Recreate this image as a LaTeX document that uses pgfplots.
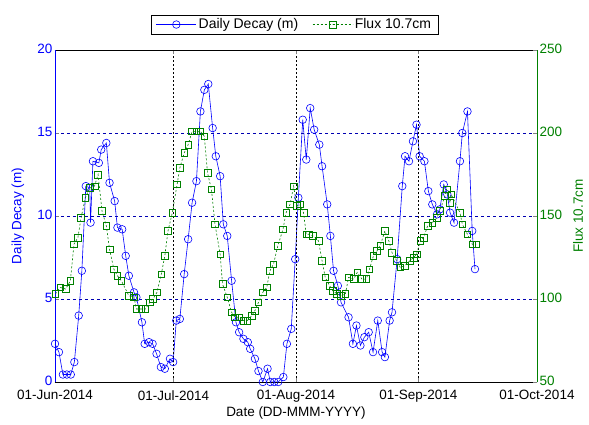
\documentclass[border=0pt]{standalone}
\usepackage{pgfplots}
\pgfplotsset{compat=1.18}
\usepackage{fontspec}
\setmainfont{Liberation Sans}
\definecolor{mgreen}{rgb}{0,0.5,0}
\definecolor{mblue}{rgb}{0,0,1}
\begin{document}
\begin{tikzpicture}
\path[use as bounding box] (0,0) rectangle (589pt,424pt);
\pgfplotsset{
  common/.style={
    scale only axis, width=482pt, height=332pt,
    at={(55pt,42pt)}, anchor=south west,
    xmin=0, xmax=122,
    tick align=inside,
    /pgf/number format/assume math mode=true,
    tick label style={font=\fontsize{13.5}{15}\selectfont},
    label style={font=\fontsize{13.5}{15}\selectfont},
    major tick length=4pt,
  }
}
\begin{axis}[common,
  ymin=0, ymax=20, ytick={0,5,10,15,20},
  axis x line=box, axis y line*=left,
  x axis line style={black,-},
  y axis line style={mblue,-},
  yticklabel style={mblue, xshift=1pt, yshift=1pt},
  xticklabel style={yshift=-5pt},
  ylabel={Daily Decay (m)}, ylabel style={mblue, anchor=center, at={(axis description cs:-0.077,0.5)}},
  xtick={0,30,61,92,122},
  xticklabels={01-Jun-2014,01-Jul-2014,01-Aug-2014,01-Sep-2014,01-Oct-2014},
  xlabel={Date (DD-MMM-YYYY)}, xlabel style={font=\fontsize{13.5}{15}\selectfont, anchor=center, at={(axis description cs:0.5,-0.093)}},
  xmajorgrids, ymajorgrids,
  major x grid style={black, dash pattern=on 2pt off 2pt, line width=0.5pt},
  major y grid style={mblue!70!black, dash pattern=on 3pt off 3pt, line width=0.5pt},
  axis on top,
  legend style={at={(0.497,1.048)}, anchor=south, legend columns=2, draw=black,
    font=\fontsize{14}{16}\selectfont, inner xsep=5pt, inner ysep=1.5pt,
    /tikz/every even column/.append style={column sep=12pt}},
  legend cell align=left,
  legend image code/.code={\draw[mark repeat=2, mark phase=2, #1] plot coordinates {(0pt,0pt)(20pt,0pt)(40pt,0pt)};},
]
\addplot[mblue, line width=0.6pt, mark=o, mark size=3.8pt, mark options={solid}] coordinates {
(0,2.3)(1,1.8)(2,0.45)(3,0.45)(4,0.45)(4.9,1.2)(6.0,4.0)(6.8,6.7)(7.8,11.8)(8.8,11.7)
(9.0,9.6)(9.6,13.3)(11.1,13.2)(11.7,14.0)(13.0,14.4)(13.8,12.0)(15.1,10.9)(15.8,9.3)(17.0,9.2)(17.9,7.6)
(18.7,6.4)(20.0,5.4)(20.6,5.1)(22.0,3.6)(22.7,2.3)(23.8,2.4)(24.7,2.3)(25.7,1.7)(26.8,0.9)(27.8,0.8)
(29.1,1.4)(29.9,1.2)(30.7,3.7)(31.6,3.8)(32.7,6.5)(33.7,8.6)(34.7,10.8)(35.8,12.1)(36.8,16.3)(37.8,17.6)
(38.8,17.95)(39.9,15.3)(40.7,13.6)(41.8,12.4)(42.6,9.5)(43.6,8.8)(44.7,6.1)(45.8,3.6)(46.6,3.0)(47.7,2.6)
(48.8,2.4)(49.4,2.0)(50.6,1.4)(51.5,0.66)(52.6,0.0)(53.8,0.8)(54.5,0.0)(55.5,0.0)(56.5,0.0)(57.8,0.3)
(58.7,2.3)(59.8,3.2)(60.8,7.4)(61.6,11.1)(62.7,15.8)(63.6,13.4)(64.6,16.5)(65.6,15.2)(66.9,14.3)(67.6,13.0)
(68.9,10.7)(69.7,8.8)(70.5,6.7)(71.6,5.8)(72.4,4.8)(74.3,3.9)(75.4,2.3)(76.3,3.4)(77.3,2.2)(78.3,2.7)
(79.4,3.0)(80.5,1.8)(81.7,3.7)(82.8,1.8)(83.5,1.5)(84.7,3.7)(85.3,4.2)(86.6,7.4)(87.9,11.8)(88.6,13.6)
(89.6,13.3)(90.6,14.5)(91.5,15.5)(92.3,13.6)(93.5,13.3)(94.5,11.5)(95.5,10.7)(96.7,10.1)(97.4,10.4)(98.4,11.9)
(99.3,11.3)(100.0,10.2)(101.0,9.6)(102.5,13.3)(103.1,15.0)(104.4,16.3)(105.6,9.1)(106.3,6.8)
};
\addlegendentry{Daily Decay (m)}
\addlegendimage{mgreen, dash pattern=on 2pt off 2pt, line width=0.6pt, mark=square, mark size=3.3pt, mark options={solid}}
\addlegendentry{Flux 10.7cm}
\end{axis}
\begin{axis}[common,
  ymin=50, ymax=250, ytick={50,100,150,200,250},
  axis x line=none, axis y line*=right,
  y axis line style={mgreen,-},
  yticklabel style={mgreen, xshift=-1pt, yshift=1pt},
  ylabel={Flux 10.7cm}, ylabel style={mgreen, anchor=center, at={(axis description cs:1.085,0.5)}},
]
\addplot[mgreen, line width=0.6pt, dash pattern=on 2pt off 2pt, mark=square, mark size=3.3pt, mark options={solid}] coordinates {
(0.1,103)(1.3,107)(2.7,106)(3.9,111)(4.8,133)(5.8,137)(6.6,149)(7.7,161)(8.8,167)(10.0,168)
(10.9,175)(11.9,153)(13.0,144)(13.8,130)(14.9,118)(15.8,114)(16.8,111)(18.7,102)(20.0,101)(20.6,94)
(21.8,94)(22.9,94)(24.0,98)(24.8,100)(25.8,104)(26.9,115)(27.8,126)(28.6,141)(29.7,152)(30.9,169)
(31.6,179)(32.7,188)(33.7,193)(34.7,201)(35.8,201)(36.8,201)(37.8,198)(38.6,176)(39.6,166)(40.5,145)
(41.8,127)(42.4,109)(43.6,101)(44.7,92)(45.5,89)(46.6,89)(47.7,87)(48.7,87)(49.8,90)(50.6,93)
(51.5,98)(52.6,104)(53.6,107)(54.4,117)(55.3,121)(56.4,132)(57.7,142)(58.5,152)(59.5,157)(60.4,168)
(61.2,156)(61.9,157)(62.9,152)(63.6,139)(64.3,139)(65.3,138)(66.7,135)(67.6,123)(68.4,113)(69.5,108)
(70.3,105)(71.4,103)(72.4,102)(73.5,103)(74.3,113)(75.6,112)(76.5,116)(77.7,112)(78.8,112)(79.6,118)
(80.6,126)(81.5,129)(82.3,132)(83.5,141)(84.5,135)(85.3,128)(86.5,123)(87.4,119)(88.5,120)(89.8,123)
(90.8,125)(91.5,127)(92.5,135)(93.3,137)(94.3,144)(95.5,146)(96.7,149)(97.4,153)(98.7,162)(99.1,166)
(100.0,158)(100.3,163)(102.5,152)(103.1,145)(104.4,139)(105.6,133)(106.6,133)
};
\end{axis}
\end{tikzpicture}
\end{document}
